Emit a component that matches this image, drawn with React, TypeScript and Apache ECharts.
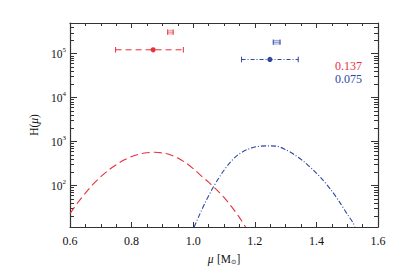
import React, { useEffect, useRef } from "react";
import * as echarts from "echarts";

// ---- data ----
const redMu = [0.6, 0.625, 0.65, 0.675, 0.7, 0.725, 0.75, 0.775, 0.8, 0.825, 0.85, 0.875, 0.9, 0.925, 0.95, 0.975, 1.0, 1.025, 1.05, 1.075, 1.1, 1.125, 1.15, 1.17];
const redH = [23, 41, 68, 108, 160, 226, 300, 383, 460, 522, 562, 575, 555, 505, 425, 335, 245, 170, 120, 82, 54, 33, 19, 11.5];

const blueMu = [1.003, 1.02, 1.04, 1.06, 1.08, 1.1, 1.12, 1.145, 1.175, 1.205, 1.24, 1.27, 1.3, 1.33, 1.36, 1.39, 1.42, 1.45, 1.475, 1.5, 1.52, 1.525];
const blueH = [11.5, 21.4, 42.7, 79.4, 138, 224, 339, 501, 661, 767, 805, 794, 661, 499, 350, 226, 137, 76, 42.8, 22.6, 14, 11.5];

// error bars: [centre mu, H, low mu, high mu]
const redMain = [0.87, 123000, 0.748, 0.968];
const redSmall = [0.926, 310000, 0.917, 0.935];
const blueMain = [1.249, 74000, 1.157, 1.341];
const blueSmall = [1.271, 183000, 1.26, 1.282];

const labelsRight = ["0.137", "0.075"];

const xMin = 0.6;
const xMax = 1.6;
const xStep = 0.2;
const yMin = 11.5;
const yMax = 500000;
const yMajor = [100, 1000, 10000, 100000];
const yMinor = [
  20, 30, 40, 50, 60, 70, 80, 90,
  200, 300, 400, 500, 600, 700, 800, 900,
  2000, 3000, 4000, 5000, 6000, 7000, 8000, 9000,
  20000, 30000, 40000, 50000, 60000, 70000, 80000, 90000,
  200000, 300000, 400000,
];

const RED = "#e8303c";
const BLUE = "#2e46a0";
const AX = "#333333";
const SERIF = '"Liberation Serif", "DejaVu Serif", serif';

function errBarSeries(item: number[], color: string, dash: number[], dot: boolean) {
  return {
    type: "custom",
    xAxisIndex: 0,
    yAxisIndex: 0,
    data: [item],
    encode: { x: [0, 2, 3], y: 1 },
    renderItem: (params: any, api: any) => {
      const c = api.coord([api.value(0), api.value(1)]);
      const l = api.coord([api.value(2), api.value(1)]);
      const h = api.coord([api.value(3), api.value(1)]);
      const cap = 2.8;
      const children: any[] = [
        { type: "line", shape: { x1: l[0], y1: l[1], x2: h[0], y2: h[1] }, style: { stroke: color, lineWidth: dot ? 1 : 0.7, lineDash: dash } },
        { type: "line", shape: { x1: l[0], y1: l[1] - cap, x2: l[0], y2: l[1] + cap }, style: { stroke: color, lineWidth: dot ? 1 : 0.8 } },
        { type: "line", shape: { x1: h[0], y1: h[1] - cap, x2: h[0], y2: h[1] + cap }, style: { stroke: color, lineWidth: dot ? 1 : 0.8 } },
      ];
      if (dot) {
        children.push({ type: "circle", shape: { cx: c[0], cy: c[1], r: 2.6 }, style: { fill: color } });
      } else {
        children.push({ type: "rect", shape: { x: l[0], y: l[1] - 1.8, width: h[0] - l[0], height: 3.6 }, style: { fill: "none", stroke: color, lineWidth: 0.5 } });
      }
      return { type: "group", children };
    },
    silent: true,
    z: 5,
  };
}

export default function App() {
  const ref = useRef<HTMLDivElement>(null);
  useEffect(() => {
    if (!ref.current) return;
    const chart = echarts.init(ref.current, null, { renderer: "svg" });
    const logAxisBase = {
      type: "log",
      min: yMin,
      max: yMax,
      logBase: 10,
      splitLine: { show: false },
      minorTick: { show: false },
      minorSplitLine: { show: false },
    };
    const option: any = {
      animation: false,
      backgroundColor: "#ffffff",
      grid: { left: 70, right: 21, top: 23, bottom: 46, containLabel: false, outerBoundsMode: "none" },
      xAxis: [
        {
          type: "value",
          position: "bottom",
          min: xMin,
          max: xMax,
          interval: xStep,
          axisLine: { show: true, lineStyle: { color: AX, width: 1.2 } },
          axisTick: { show: true, inside: true, length: 5, lineStyle: { color: AX } },
          minorTick: { show: true, splitNumber: 4, length: 3, lineStyle: { color: AX } },
          splitLine: { show: false },
          axisLabel: {
            margin: 8,
            color: "#111",
            fontFamily: SERIF,
            fontSize: 12,
            formatter: (v: number) => v.toFixed(1),
          },
          name: "{i|μ} {n|[M}{sub|⊙}{n|]}",
          nameLocation: "middle",
          nameGap: 24,
          nameTextStyle: {
            rich: {
              i: { fontFamily: SERIF, fontStyle: "italic", fontSize: 11.5, color: "#111", lineHeight: 14 },
              n: { fontFamily: SERIF, fontSize: 11.5, color: "#111", lineHeight: 14 },
              sub: { fontFamily: "DejaVu Sans", fontSize: 6.5, color: "#111", verticalAlign: "bottom", lineHeight: 14, padding: [7, 0, 0, 0] },
            },
          },
        },
        {
          type: "value",
          position: "top",
          min: xMin,
          max: xMax,
          interval: xStep,
          axisLine: { show: true, lineStyle: { color: AX, width: 1.2 } },
          axisTick: { show: true, inside: true, length: 5, lineStyle: { color: AX } },
          minorTick: { show: true, splitNumber: 4, length: 3, lineStyle: { color: AX } },
          splitLine: { show: false },
          axisLabel: { show: false },
        },
      ],
      yAxis: [
        {
          ...logAxisBase,
          position: "left",
          axisLine: { show: true, lineStyle: { color: AX, width: 1.2 } },
          axisTick: { show: true, inside: true, length: 7, customValues: yMajor, lineStyle: { color: AX } },
          axisLabel: {
            show: true,
            margin: 4,
            customValues: yMajor,
            formatter: (v: number) => `{b|10}{s|${Math.round(Math.log10(v))}}`,
            rich: {
              b: { fontFamily: SERIF, fontSize: 11.5, color: "#111", lineHeight: 14 },
              s: { fontFamily: SERIF, fontSize: 7, color: "#111", verticalAlign: "top", lineHeight: 14, padding: [0, 0, 6, 0] },
            },
          },
          name: "{n|H(}{i|μ}{n|)}",
          nameLocation: "middle",
          nameGap: 26,
          nameTextStyle: {
            rich: {
              i: { fontFamily: SERIF, fontStyle: "italic", fontSize: 11.5, color: "#111" },
              n: { fontFamily: SERIF, fontSize: 11.5, color: "#111" },
            },
          },
        },
        {
          ...logAxisBase,
          position: "left",
          axisLine: { show: false },
          axisTick: { show: true, inside: true, length: 4, customValues: yMinor, lineStyle: { color: AX } },
          axisLabel: { show: false },
        },
        {
          ...logAxisBase,
          position: "right",
          axisLine: { show: true, lineStyle: { color: AX, width: 1.2 } },
          axisTick: { show: true, inside: true, length: 7, customValues: yMajor, lineStyle: { color: AX } },
          axisLabel: { show: false },
        },
        {
          ...logAxisBase,
          position: "right",
          axisLine: { show: false },
          axisTick: { show: true, inside: true, length: 4, customValues: yMinor, lineStyle: { color: AX } },
          axisLabel: { show: false },
        },
      ],
      series: [
        {
          type: "line",
          xAxisIndex: 0,
          yAxisIndex: 0,
          data: redMu.map((m, i) => [m, redH[i]]),
          smooth: 0.3,
          showSymbol: false,
          symbol: "none",
          lineStyle: { color: RED, width: 1.1, type: [8, 4] },
          clip: true,
          silent: true,
        },
        {
          type: "line",
          xAxisIndex: 0,
          yAxisIndex: 0,
          data: blueMu.map((m, i) => [m, blueH[i]]),
          smooth: 0.3,
          showSymbol: false,
          symbol: "none",
          lineStyle: { color: BLUE, width: 1.1, type: [5, 2, 1, 2] },
          clip: true,
          silent: true,
        },
        errBarSeries(redMain, RED, [6, 4], true),
        errBarSeries(redSmall, RED, [], false),
        errBarSeries(blueMain, BLUE, [4, 2, 1, 2], true),
        errBarSeries(blueSmall, BLUE, [], false),
      ],
      graphic: [
        {
          type: "text",
          x: 362,
          y: 65.5,
          style: { text: labelsRight[0], fill: RED, font: `12px ${SERIF}`, align: "right", verticalAlign: "middle" },
        },
        {
          type: "text",
          x: 362,
          y: 78.5,
          style: { text: labelsRight[1], fill: BLUE, font: `12px ${SERIF}`, align: "right", verticalAlign: "middle" },
        },
      ],
    };
    chart.setOption(option);
    return () => chart.dispose();
  }, []);
  return (
    <div
      ref={ref}
      style={{ position: "fixed", left: 0, top: 0, width: 399, height: 273, background: "#fff" }}
    />
  );
}
